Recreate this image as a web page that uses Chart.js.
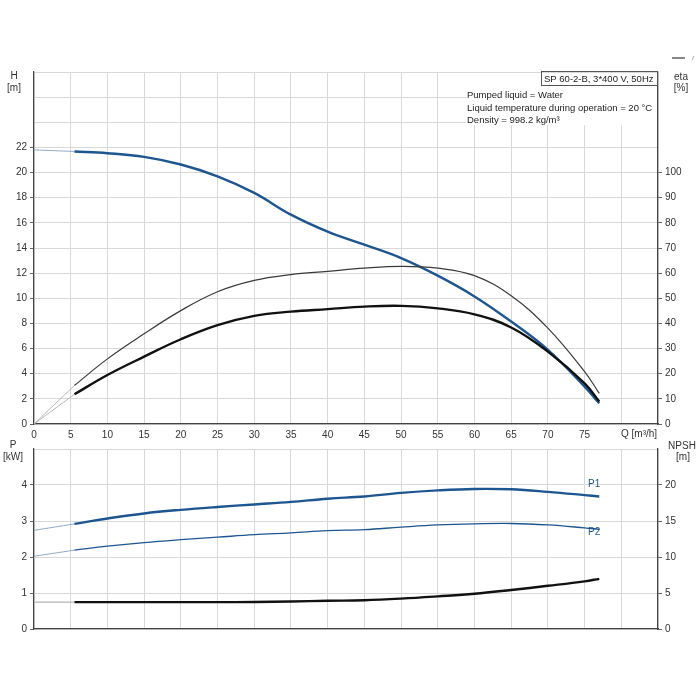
<!DOCTYPE html>
<html lang="en">
<head>
    <meta charset="UTF-8">
    <title>SP 60-2-B pump curves</title>
    <script src="https://cdn.jsdelivr.net/npm/chart.js"></script>
    <style>
        body {
            margin: 0;
            background: #fff;
            font-family: 'Liberation Sans', Arial, sans-serif;
        }
        #wrap {
            position: relative;
            width: 700px;
            height: 700px;
        }
        canvas {
            position: absolute;
            left: 0;
        }
        #topChart { top: 0; }
        #bottomChart { top: 440px; }
    </style>
</head>
<body>
    <div id="wrap">
        <canvas id="topChart" width="700" height="440"></canvas>
        <canvas id="bottomChart" width="700" height="260"></canvas>
    </div>

    <script>
        // flow points (m3/h); first segment 0 -> 5.5 is drawn thin
        const qFlow = [0, 5.5, 10, 15, 20, 25, 30, 35, 40, 45, 50, 55, 60, 65, 70, 75, 77];
        const headH = [21.8, 21.68, 21.54, 21.25, 20.64, 19.7, 18.38, 16.65, 15.3, 14.26, 13.2, 11.8, 10.15, 8.15, 5.9, 2.97, 1.65];
        const etaUpper = [0, 15.3, 25.9, 35.9, 45.1, 52.6, 57.1, 59.4, 60.7, 62.0, 62.7, 62.0, 59.0, 51.0, 38.1, 20.8, 12.2];
        const etaLower = [0, 11.8, 19.5, 26.8, 33.7, 39.3, 43.0, 44.7, 45.7, 46.7, 47.0, 46.0, 43.6, 38.4, 28.8, 16.2, 8.9];
        const powerP1 = [2.74, 2.92, 3.07, 3.21, 3.31, 3.39, 3.46, 3.53, 3.62, 3.68, 3.78, 3.85, 3.89, 3.88, 3.81, 3.72, 3.68];
        const powerP2 = [2.02, 2.19, 2.3, 2.4, 2.48, 2.55, 2.62, 2.67, 2.73, 2.76, 2.83, 2.89, 2.92, 2.93, 2.89, 2.81, 2.77];
        const npsh = [3.73, 3.73, 3.73, 3.73, 3.73, 3.73, 3.75, 3.82, 3.92, 4.0, 4.22, 4.53, 4.89, 5.42, 6.0, 6.62, 6.97];

        const xTicks = [0, 5, 10, 15, 20, 25, 30, 35, 40, 45, 50, 55, 60, 65, 70, 75];
        const hTicks = [0, 2, 4, 6, 8, 10, 12, 14, 16, 18, 20, 22];
        const etaTicks = [0, 10, 20, 30, 40, 50, 60, 70, 80, 90, 100];
        const pTicks = [0, 1, 2, 3, 4];
        const npshTicks = [0, 5, 10, 15, 20];

        const FONT = "'Liberation Sans', Arial, sans-serif";
        const GRID = '#d8d8d8';
        const AXIS = '#444';
        const BLUE = '#1d5591';

        // build {x,y} points for a slice of the series
        function pts(ys, from, to) {
            const out = [];
            for (let i = from; i <= to; i++) out.push({ x: qFlow[i], y: ys[i] });
            return out;
        }
        const last = qFlow.length - 1;

        function line(data, color, width, axis) {
            return {
                data: data,
                borderColor: color,
                borderWidth: width,
                pointRadius: 0,
                fill: false,
                tension: 0.4,
                yAxisID: axis
            };
        }

        function xScale(showLabels, height) {
            return {
                type: 'linear',
                min: 0, max: 85,
                afterBuildTicks: s => { s.ticks = [...xTicks, 80, 85].map(v => ({ value: v })); },
                ticks: {
                    display: showLabels,
                    color: '#333',
                    font: { family: FONT, size: 10 },
                    padding: 5,
                    maxRotation: 0,
                    callback: v => xTicks.includes(v) ? v : ''
                },
                grid: { color: GRID, drawTicks: false },
                border: { color: AXIS, width: 1.2 },
                afterFit: s => { s.height = height; }
            };
        }

        // y axis with gridlines every step, labels only where listed
        function yScale(pos, max, step, labelled, width) {
            return {
                type: 'linear',
                position: pos,
                min: 0, max: max,
                afterBuildTicks: s => {
                    const t = [];
                    for (let v = 0; v <= max; v += step) t.push({ value: v });
                    s.ticks = t;
                },
                ticks: {
                    color: '#333',
                    font: { family: FONT, size: 10 },
                    padding: 3,
                    callback: v => labelled.includes(v) ? v : ''
                },
                grid: {
                    color: GRID,
                    drawOnChartArea: pos === 'left',
                    tickLength: 4,
                    tickColor: ctx => (ctx.tick && labelled.includes(ctx.tick.value)) ? '#666' : 'rgba(0,0,0,0)'
                },
                border: { color: AXIS, width: 1.2 },
                afterFit: s => { s.width = width; }
            };
        }

        function text(ctx, str, x, y, align, size, color) {
            ctx.fillStyle = color || '#333';
            ctx.font = (size || 10) + 'px ' + FONT;
            ctx.textAlign = align || 'left';
            ctx.textBaseline = 'middle';
            ctx.fillText(str, x, y);
        }

        const topLabels = {
            id: 'topLabels',
            afterDraw(chart) {
                const ctx = chart.ctx;
                ctx.save();
                text(ctx, 'H', 14, 76, 'center');
                text(ctx, '[m]', 14, 88, 'center');
                text(ctx, 'eta', 681, 77, 'center');
                text(ctx, '[%]', 681, 88, 'center');
                text(ctx, 'Q [m\u00b3/h]', 621, 434, 'left');

                // info block
                ctx.fillStyle = '#fff';
                ctx.fillRect(466, 73, 191, 52);
                ctx.strokeStyle = '#555';
                ctx.lineWidth = 1;
                ctx.strokeRect(541.5, 71.5, 116, 14);
                text(ctx, 'SP 60-2-B, 3*400 V, 50Hz', 544, 79, 'left', 9.5, '#222');
                text(ctx, 'Pumped liquid = Water', 467, 95, 'left', 9.5, '#222');
                text(ctx, 'Liquid temperature during operation = 20 \u00b0C', 467, 108, 'left', 9.5, '#222');
                text(ctx, 'Density = 998.2 kg/m\u00b3', 467, 120, 'left', 9.5, '#222');

                // cut-off mark at the top right
                ctx.fillStyle = '#888';
                ctx.fillRect(672, 57, 13, 2);
                ctx.strokeStyle = '#aaa';
                ctx.beginPath();
                ctx.moveTo(692, 60);
                ctx.lineTo(694, 56);
                ctx.stroke();
                ctx.restore();
            }
        };

        const bottomLabels = {
            id: 'bottomLabels',
            afterDraw(chart) {
                const ctx = chart.ctx;
                ctx.save();
                text(ctx, 'P', 13, 5, 'center');
                text(ctx, '[kW]', 13, 17, 'center');
                text(ctx, 'NPSH', 682, 6, 'center');
                text(ctx, '[m]', 683, 17, 'center');
                text(ctx, 'P1', 588, 44, 'left', 10, BLUE);
                text(ctx, 'P2', 588, 92, 'left', 10, BLUE);
                ctx.restore();
            }
        };

        new Chart(document.getElementById('topChart'), {
            type: 'line',
            data: {
                datasets: [
                    line(pts(headH, 0, 1), '#8fa9c9', 1, 'yH'),
                    line(pts(etaUpper, 0, 1), '#b5b5b5', 1, 'yEta'),
                    line(pts(etaLower, 0, 1), '#b5b5b5', 1, 'yEta'),
                    line(pts(etaUpper, 1, last), '#3a3a3a', 1.2, 'yEta'),
                    line(pts(etaLower, 1, last), '#111', 2.4, 'yEta'),
                    line(pts(headH, 1, last), BLUE, 2.4, 'yH')
                ]
            },
            options: {
                responsive: false,
                devicePixelRatio: 1,
                animation: false,
                layout: { padding: { top: 72, left: 0, right: 0, bottom: 0 } },
                plugins: { legend: { display: false }, tooltip: { enabled: false } },
                scales: {
                    x: xScale(true, 16),
                    yH: yScale('left', 28, 2, hTicks, 34),
                    yEta: yScale('right', 140, 10, etaTicks, 42)
                }
            },
            plugins: [topLabels]
        });

        new Chart(document.getElementById('bottomChart'), {
            type: 'line',
            data: {
                datasets: [
                    line(pts(powerP1, 0, 1), '#8fa9c9', 1, 'yP'),
                    line(pts(powerP2, 0, 1), '#8fa9c9', 1, 'yP'),
                    line(pts(npsh, 0, 1), '#b5b5b5', 1.4, 'yN'),
                    line(pts(powerP1, 1, last), BLUE, 2.4, 'yP'),
                    line(pts(powerP2, 1, last), BLUE, 1.3, 'yP'),
                    line(pts(npsh, 1, last), '#111', 2.4, 'yN')
                ]
            },
            options: {
                responsive: false,
                devicePixelRatio: 1,
                animation: false,
                layout: { padding: { top: 2, left: 0, right: 0, bottom: 0 } },
                plugins: { legend: { display: false }, tooltip: { enabled: false } },
                scales: {
                    x: xScale(false, 71),
                    yP: yScale('left', 5, 1, pTicks, 34),
                    yN: yScale('right', 25, 5, npshTicks, 42)
                }
            },
            plugins: [bottomLabels]
        });
    </script>
</body>
</html>
